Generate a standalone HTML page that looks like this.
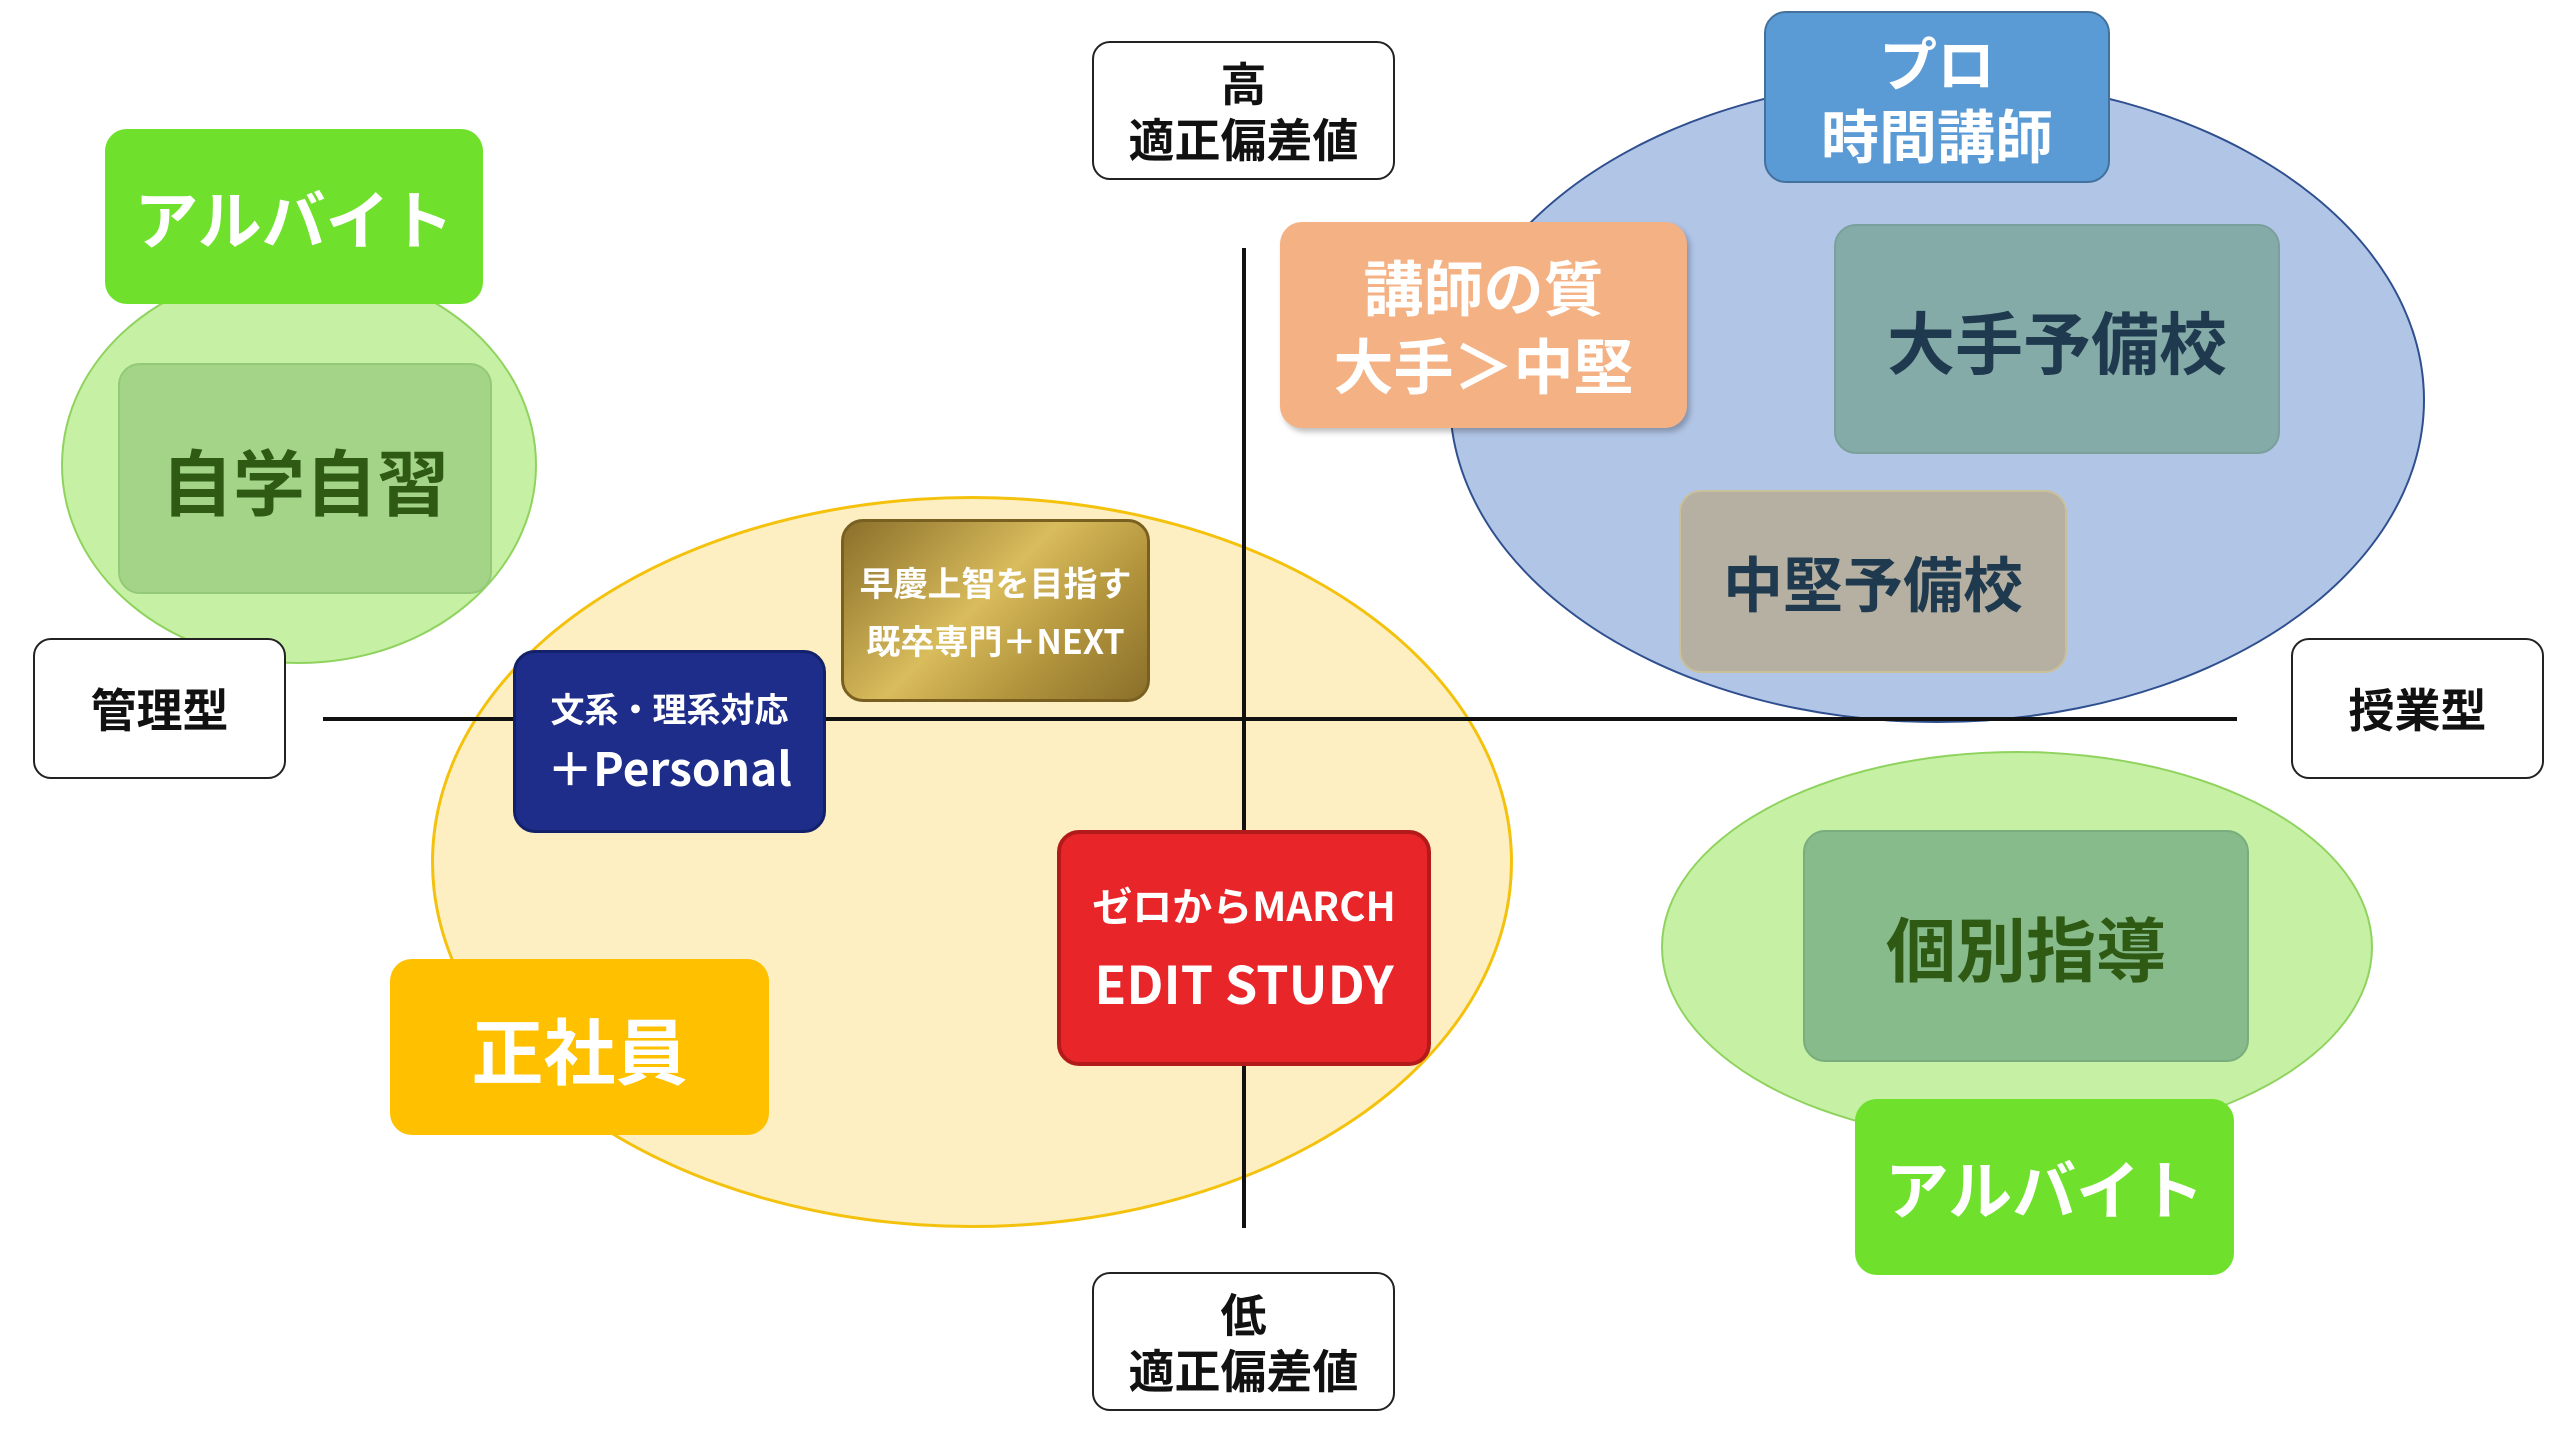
<!DOCTYPE html>
<html><head><meta charset="utf-8"><style>
body{margin:0;width:2560px;height:1440px;background:#fff;position:relative;overflow:hidden;font-family:"Noto Sans CJK JP","Liberation Sans",sans-serif;font-weight:bold}
.a{position:absolute;box-sizing:border-box;display:flex;align-items:center;justify-content:center;text-align:center;flex-direction:column}
.e{position:absolute;border-radius:50%;box-sizing:border-box}
.lbl{background:#fff;border:2px solid #222;border-radius:18px;color:#111;font-size:46px;line-height:1.2}
.r{border-radius:22px}
</style></head><body>
<div class="e" style="left:61px;top:266px;width:476px;height:398px;background:#c6f0a4;border:2px solid #8fd35e"></div>
<div class="e" style="left:431px;top:496px;width:1082px;height:732px;background:#fdefc2;border:3px solid #f4c20d"></div>
<div class="e" style="left:1449px;top:77px;width:976px;height:646px;background:#b1c5e7;border:2px solid #2f4f8f"></div>
<div class="e" style="left:1661px;top:751px;width:712px;height:392px;background:#c6f0a4;border:2px solid #8fd35e"></div>

<div style="position:absolute;left:323px;top:717px;width:1914px;height:4px;background:#111"></div>
<div style="position:absolute;left:1242px;top:248px;width:4px;height:980px;background:#111"></div>

<div class="a lbl" style="left:1092px;top:41px;width:303px;height:139px">高<br>適正偏差値</div>
<div class="a lbl" style="left:1092px;top:1272px;width:303px;height:139px">低<br>適正偏差値</div>
<div class="a lbl" style="left:33px;top:638px;width:253px;height:141px">管理型</div>
<div class="a lbl" style="left:2291px;top:638px;width:253px;height:141px">授業型</div>

<div class="a r" style="left:105px;top:129px;width:378px;height:175px;background:#6fe02b;color:#fff;font-size:64px">アルバイト</div>
<div class="a r" style="left:118px;top:363px;width:374px;height:231px;background:#a3d488;border:2px solid #95c97a;color:#2e5a14;font-size:72px">自学自習</div>

<div class="a r" style="left:1764px;top:11px;width:346px;height:172px;background:#5b9bd5;border:2px solid #41719c;color:#fff;font-size:58px;line-height:1.25">プロ<br>時間講師</div>
<div class="a r" style="left:1280px;top:222px;width:407px;height:206px;background:#f4b183;color:#fff;font-size:60px;line-height:1.3;box-shadow:3px 4px 6px rgba(0,0,0,.25)">講師の質<br>大手＞中堅</div>
<div class="a r" style="left:1834px;top:224px;width:446px;height:230px;background:#85aba8;border:2px solid #7aa09c;color:#1f3a4f;font-size:68px">大手予備校</div>
<div class="a r" style="left:1679px;top:490px;width:388px;height:183px;background:#b6b0a2;border:2px solid #c9c09a;color:#1f3a4f;font-size:60px">中堅予備校</div>

<div class="a r" style="left:841px;top:519px;width:309px;height:183px;background:linear-gradient(135deg,#8a6f2a,#d9bc5c 45%,#b3953d 70%,#8a6f2a);border:3px solid #7a6020;color:#fff;font-size:34px;line-height:1.7">早慶上智を目指す<br>既卒専門＋NEXT</div>
<div class="a r" style="left:513px;top:650px;width:313px;height:183px;background:#1f2d8a;border:3px solid #13206a;color:#fff;font-size:34px;line-height:1.5"><span>文系・理系対応</span><span style="font-size:46px">＋Personal</span></div>
<div class="a r" style="left:390px;top:959px;width:379px;height:176px;background:#ffc000;color:#fff;font-size:72px">正社員</div>
<div class="a r" style="left:1057px;top:830px;width:374px;height:236px;background:#e8262a;border:4px solid #b31b1b;color:#fff;font-size:40px;line-height:1.7"><span>ゼロからMARCH</span><span style="font-size:52px">EDIT STUDY</span></div>

<div class="a r" style="left:1803px;top:830px;width:446px;height:232px;background:#87bb8b;border:2px solid #79ad7e;color:#2e5a14;font-size:70px">個別指導</div>
<div class="a r" style="left:1855px;top:1099px;width:379px;height:176px;background:#6fe02b;color:#fff;font-size:64px">アルバイト</div>
</body></html>
